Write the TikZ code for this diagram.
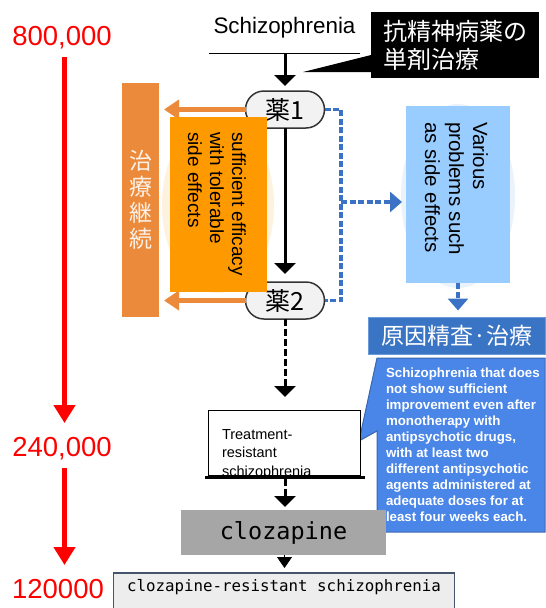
\documentclass[tikz,border=0pt]{standalone}
\usepackage{fontspec}
\setmainfont{Liberation Sans}
\newfontfamily\cjk{Noto Sans CJK JP}
\newfontfamily\monofnt{DejaVu Sans Mono}
\usetikzlibrary{arrows.meta,shapes.misc}
\definecolor{redc}{HTML}{FF0000}
\definecolor{orbar}{HTML}{EB8A3A}
\definecolor{orbox}{HTML}{FF9900}
\definecolor{ltblue}{HTML}{99CCFF}
\definecolor{dashblue}{HTML}{3B72C6}
\definecolor{genblue}{HTML}{3A74C4}
\definecolor{genborder}{HTML}{6C9BDB}
\definecolor{calblue}{HTML}{4A86E8}
\definecolor{calborder}{HTML}{3A66B0}
\definecolor{clozgray}{HTML}{A6A6A6}
\definecolor{botfill}{HTML}{EDEDED}
\definecolor{botborder}{HTML}{44546A}
\definecolor{pillfill}{HTML}{F2F2F2}
\definecolor{pillborder}{HTML}{333333}
\definecolor{glowor}{HTML}{FCF2DE}
\definecolor{glowbl}{HTML}{EAF3FC}
\begin{document}
\begin{tikzpicture}[x=1pt,y=-1pt,
  every node/.style={inner sep=0pt,outer sep=0pt},
  redlbl/.style={text=redc,font=\fontsize{27.5}{30}\selectfont,text height=20pt,text depth=0pt},
  redarrow/.style={draw=redc,line width=5.5pt,-{Triangle[length=18pt,width=21pt]}},
  blkarrow/.style={draw=black,line width=3pt,-{Triangle[length=11pt,width=21pt]}},
  blkdash/.style={blkarrow,dash pattern=on 7pt off 3pt},
  orarrow/.style={draw=orbar,line width=5pt,-{Triangle[length=15pt,width=19pt]}},
  bluedash/.style={draw=dashblue,line width=3.5pt,dash pattern=on 6pt off 2.5pt},
  bluetip/.style={-{Triangle[length=12pt,width=20pt]}},
  pill/.style={rounded rectangle,draw=pillborder,line width=1.5pt,fill=pillfill,
    minimum width=79pt,minimum height=37pt,font=\cjk\fontsize{25}{25}\selectfont}]
\useasboundingbox (0,0) rectangle (546,608);
\fill[white] (0,0) rectangle (546,608);

% red counts
\node[redlbl] (n800) at (62,35) {800,000};
\node[redlbl] (n240) at (62,446.5) {240,000};
\node[redlbl] (n120) at (58,588) {120000};
\draw[redarrow,shorten <=12pt,shorten >=13.5pt] ([xshift=2.5pt]n800.south) -- ([xshift=2.5pt]n240.north);
\draw[redarrow,shorten <=11.5pt,shorten >=13pt] ([xshift=2.5pt]n240.south) -- ([xshift=6.5pt]n120.north);

% title
\node[font=\fontsize{22.4}{26}\selectfont,text height=16pt,text depth=0pt,
  minimum width=151pt,minimum height=55pt,anchor=south] (schiz) at (284.5,53) {Schizophrenia};
\draw[line width=1pt] (schiz.south west) -- (schiz.south east);

% black callout
\node[fill=black,text=white,minimum width=168pt,minimum height=66pt,
  font=\cjk\fontsize{24}{28}\selectfont,align=left] (jp) at (455,45) {抗精神病薬の\\単剤治療};
\coordinate (jptip) at (303,72);
\fill ([yshift=-10pt]jp.west) -- (jptip) -- ([yshift=-27pt]jp.west) -- cycle;

% glows
\fill[glowor] (218,205) ellipse [x radius=56pt,y radius=88pt];
\fill[glowbl] (458,196) ellipse [x radius=57pt,y radius=92pt];

% orange bar
\node[fill=orbar,minimum width=37pt,minimum height=234pt,text=white!88!orbar,
  font=\cjk\fontsize{23}{26}\selectfont,align=center] (bar) at (140.5,200) {治\\療\\継\\続};

% pills
\node[pill] (yaku1) at (285,109.5) {薬1};
\node[pill] (yaku2) at (285,300.5) {薬2};

\draw[blkarrow,shorten >=5pt] (yaku1.north |- schiz.south) -- (yaku1.north);
\draw[blkarrow,shorten >=8pt] (yaku1.south) -- (yaku2.north);
\draw[orarrow,shorten >=5pt] (yaku1.west) -- (yaku1.west -| bar.east);
\draw[orarrow,shorten >=5pt] (yaku2.west) -- (yaku2.west -| bar.east);

% orange box
\node[fill=orbox,minimum width=97pt,minimum height=175pt] (suff) at (218.5,204.5) {};
\node[rotate=-90,anchor=west,align=left,font=\fontsize{19}{22}\selectfont] (sufft) at (217,132)
  {sufficient efficacy\\with tolerable\\side effects};

% blue branch
\coordinate (bj) at (341,202);
\node[fill=ltblue,minimum width=104pt,minimum height=177pt] (var) at (458,194.5) {};
\node[rotate=-90,anchor=west,align=left,font=\fontsize{20.5}{24}\selectfont] (vart) at (456.5,122)
  {Various\\problems such\\as side effects};
\draw[bluedash] (yaku1.east) -| (bj) |- (yaku2.east);
\draw[bluedash,bluetip,shorten >=4pt] (bj) -- (bj -| var.west);
\node[fill=genblue,draw=genborder,line width=1pt,minimum width=177pt,minimum height=37pt,
  text=white,font=\cjk\fontsize{23}{23}\selectfont] (gen) at (457,336) {原因精査·治療};
\draw[bluedash,bluetip,shorten >=7pt] (var.south) -- (var.south |- gen.north);

% blue note callout
\node[fill=calblue,minimum width=168pt,minimum height=174pt] (cal) at (461,445) {};
\coordinate (caltip) at (359,441);
\fill[calblue] (cal.north west) -- (caltip) -- ([yshift=-73pt]cal.north west) -- cycle;
\draw[calborder,line width=1pt] (cal.north west) -- (cal.north east) -- (cal.south east)
  -- (cal.south west) -- ([yshift=-73pt]cal.north west) -- (caltip) -- cycle;
\node[anchor=north west,align=left,text=white,font=\bfseries\fontsize{13.3}{16}\selectfont] (calt) at (386,367.5)
  {Schizophrenia that does\\not show sufficient\\improvement even after\\monotherapy with\\antipsychotic drugs,\\with at least two\\different antipsychotic\\agents administered at\\adequate doses for at\\least four weeks each.};

% treatment-resistant
\node[draw=black,fill=white,line width=1pt,minimum width=152pt,minimum height=65pt] (tr) at (284,442.5) {};
\node[anchor=north west,align=left,font=\fontsize{14.5}{18.5}\selectfont] (trt) at (222,429.5)
  {Treatment-\\resistant\\schizophrenia};
\draw[line width=3pt] ([xshift=-3pt,yshift=-2pt]tr.south west) -- ([xshift=5pt,yshift=-2pt]tr.south east);
\draw[blkdash,shorten >=13pt] (yaku2.south) -- (yaku2.south |- tr.north);

% clozapine
\node[fill=clozgray,minimum width=205pt,minimum height=45pt,
  font=\monofnt\fontsize{23.5}{24}\selectfont] (cloz) at (283.5,532.5) {clozapine};
\draw[blkdash,shorten <=3.5pt,shorten >=3pt] (yaku2.south |- tr.south) -- (yaku2.south |- cloz.north);

% bottom
\node[fill=botfill,draw=botborder,line width=1.2pt,minimum width=341pt,minimum height=50pt,
  anchor=north west] (bot) at (113.5,573) {};
\node[anchor=west,font=\monofnt\fontsize{15.8}{16}\selectfont] (bott) at (127,587)
  {clozapine-resistant schizophrenia};
\draw[line width=0.8pt,-{Triangle[length=11pt,width=15pt]},shorten >=5pt] (cloz.south -| 284.5,0) -- (bot.north -| 284.5,0);
\end{tikzpicture}
\end{document}
